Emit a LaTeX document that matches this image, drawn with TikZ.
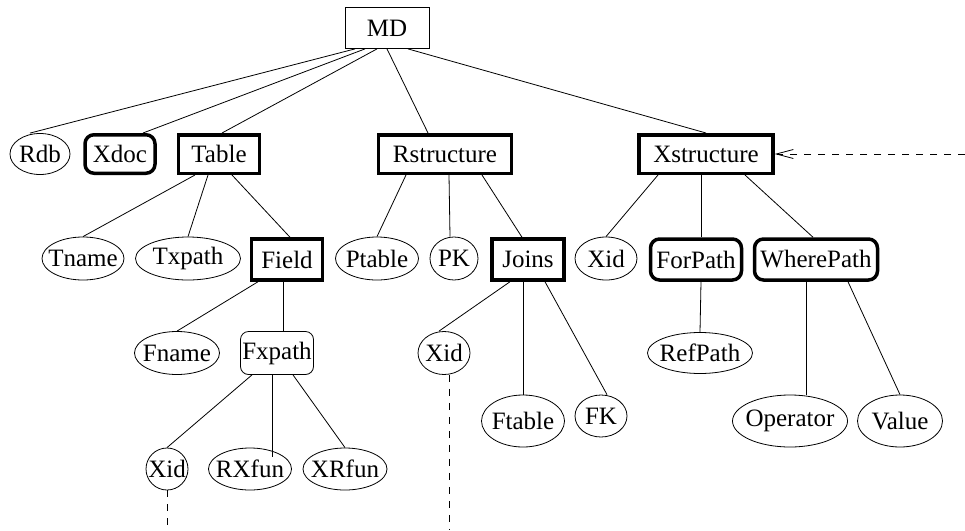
\documentclass[tikz,border=0pt]{standalone}
\usepackage{fontspec}
\setmainfont{Liberation Serif}
\newfontfamily\figfont{Liberation Serif}
\usetikzlibrary{shapes.geometric}
\usetikzlibrary{arrows.meta}

\begin{document}
\begin{tikzpicture}[
    x=1pt, y=-1pt, line width=0.8pt,
    every node/.style={draw, inner sep=0pt, minimum height=41pt,
                       font=\figfont\fontsize{25}{30}\selectfont},
    leaf/.style={ellipse, execute at begin node=\hbox to 0pt\bgroup\hss,
                 execute at end node=\hss\egroup},
    elem/.style={rectangle, line width=3.5pt, minimum height=38.5pt},
    relem/.style={elem, rounded corners=9pt},
    link/.style={dash pattern=on 7pt off 7pt},
  ]
\tikzset{>={Straight Barb[length=17pt, width=9pt]}}
  \useasboundingbox (0,0) rectangle (965,530);

  % top
  \node[minimum width=84pt] (md) at (387,28) {MD};

  % first level
  \node[leaf, minimum width=60pt] (rdb)     at (40,154)  {Rdb};
  \node[relem, minimum width=70pt] (xdoc)   at (120,154) {Xdoc};
  \node[elem, minimum width=81pt] (table)   at (219,154) {Table};
  \node[elem, minimum width=133pt] (rstruct) at (445,154) {Rstructure};
  \node[elem, minimum width=134pt] (xstruct) at (706,154) {Xstructure};

  % second level
  \node[leaf, minimum width=82pt, minimum height=43pt] (tname)  at (83,258.5)  {Tname};
  \node[leaf, minimum width=105pt, minimum height=43pt] (txpath) at (188,258.5) {Txpath};
  \node[elem, minimum width=71pt, minimum height=41pt] (field) at (287,259.5) {Field};
  \node[leaf, minimum width=83pt, minimum height=43pt] (ptable) at (377,258.5) {Ptable};
  \node[leaf, minimum width=48pt, minimum height=43pt] (pk)     at (454,258.5) {PK};
  \node[elem, minimum width=72pt, minimum height=41pt] (joins) at (528,259.5) {Joins};
  \node[leaf, minimum width=62pt, minimum height=43pt] (xidx)   at (606,258.5) {Xid};
  \node[relem, minimum width=91pt, minimum height=41pt] (forpath)   at (696,259.5) {ForPath};
  \node[relem, minimum width=123pt, minimum height=41pt] (wherepath) at (816,259.5) {WherePath};

  % third level
  \node[leaf, minimum width=85pt, minimum height=43pt] (fname) at (177,353) {Fname};
  \node[rectangle, rounded corners=8pt, minimum width=73pt, minimum height=43pt] (fxpath) at (277,353) {Fxpath};
  \node[leaf, minimum width=52pt, minimum height=43pt] (xidj) at (444,353) {Xid};
  \node[leaf, minimum width=105pt, minimum height=41pt] (refpath) at (700,353) {RefPath};

  % fourth level
  \node[leaf, minimum width=83pt, minimum height=52pt] (ftable)   at (523,421) {Ftable};
  \node[leaf, minimum width=52pt, minimum height=42pt] (fk)       at (601,416) {FK};
  \node[leaf, minimum width=115pt, minimum height=52pt] (operator) at (790,421) {Operator};
  \node[leaf, minimum width=85pt, minimum height=52pt] (value)    at (900,421) {Value};

  % fifth level
  \node[leaf, minimum width=42pt, minimum height=42pt] (xidf)  at (167,469) {Xid};
  \node[leaf, minimum width=83pt, minimum height=42pt] (rxfun) at (250,469) {RXfun};
  \node[leaf, minimum width=84pt, minimum height=42pt] (xrfun) at (345,469) {XRfun};

  \coordinate (outr) at (965,154);
  \coordinate (outf) at (167,530);
  \coordinate (outj) at (449,530);

  \draw ([xshift=-32pt]md.south) -- ([xshift=-10pt]rdb.north);
  \draw ([xshift=-22pt]md.south) -- ([xshift=23pt]xdoc.north);
  \draw ([xshift=-10pt]md.south) -- ([xshift=3pt]table.north);
  \draw (md.south) -- ([xshift=-17pt]rstruct.north);
  \draw ([xshift=21pt]md.south) -- (xstruct.north);

  \draw ([xshift=-24pt]table.south) -- (tname.north);
  \draw ([xshift=-11pt]table.south) -- (txpath.north);
  \draw ([xshift=13pt]table.south) -- ([xshift=3pt]field.north);

  \draw ([xshift=-39pt]rstruct.south) -- (ptable.north);
  \draw ([xshift=4pt]rstruct.south) -- ([xshift=-4pt]pk.north);
  \draw ([xshift=37pt]rstruct.south) -- ([xshift=-6pt]joins.north);

  \draw ([xshift=-48pt]xstruct.south) -- (xidx.north);
  \draw ([xshift=-5pt]xstruct.south) -- ([xshift=5pt]forpath.north);
  \draw ([xshift=39pt]xstruct.south) -- ([xshift=-3pt]wherepath.north);

  \draw ([xshift=-29pt]field.south) -- (fname.north);
  \draw ([xshift=-4pt]field.south) -- ([xshift=6pt]fxpath.north);

  \draw ([xshift=-18pt]joins.south) -- ([xshift=-5pt]xidj.north);
  \draw ([xshift=-5pt]joins.south) -- (ftable.north);
  \draw ([xshift=17pt]joins.south) -- ([xshift=6pt]fk.north);

  \draw ([xshift=-25pt]fxpath.south) -- (xidf.north);
  \draw ([xshift=-5pt]fxpath.south) -- ([xshift=22pt, yshift=-9pt]rxfun.north);
  \draw ([xshift=16pt]fxpath.south) -- (xrfun.north);

  \draw ([xshift=5pt]forpath.south) -- (refpath.north);
  \draw ([xshift=-10pt]wherepath.south) -- ([xshift=16pt]operator.north);
  \draw ([xshift=32pt]wherepath.south) -- (value.north);

  % dashed links
  \draw[link, ->] (outr) -- (xstruct.east);
  \draw[link] (xidf.south) -- (outf);
  \draw[link] ([xshift=5pt]xidj.south) -- (outj);
\end{tikzpicture}
\end{document}
